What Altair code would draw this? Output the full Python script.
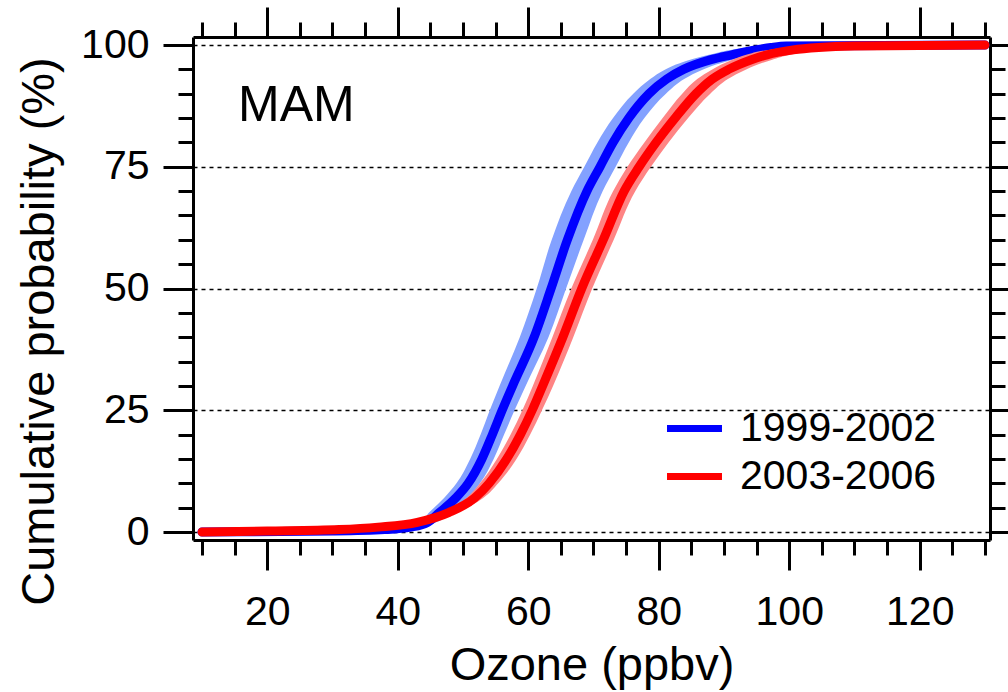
import altair as alt
import pandas as pd

# Cumulative probability levels (%) at which the ozone quantiles are given
levels = [0, 0.2, 0.5, 1, 2, 4, 7, 10, 15, 20, 25, 30, 40, 50, 60, 70, 75,
          80, 85, 90, 93, 95, 97, 98, 99, 99.5, 99.8, 100]

# 1999-2002: median ozone (ppbv) and the low / high edges of the spread
blue_mid = [10, 30, 38, 42, 44.6, 46.4, 48.9, 50.8, 52.9, 54.5, 56.0, 57.6, 60.9, 63.5,
            66.0, 69.0, 71.0, 73.0, 75.4, 78.5, 81.2, 83.8, 88.0, 91.2, 94.8, 97.2, 99.5, 130]
blue_lo = [10, 29, 37, 40.8, 43.3, 44.8, 47.1, 49.0, 51.1, 52.7, 54.1, 55.6, 58.7, 61.3,
           63.6, 66.6, 68.6, 70.6, 73.0, 76.1, 78.7, 81.0, 84.8, 87.7, 91.0, 93.5, 96.0, 101]
blue_hi = [10, 31, 39, 43.2, 45.9, 48.0, 50.7, 52.6, 54.7, 56.3, 57.9, 59.6, 63.1, 65.8,
           68.5, 71.4, 73.4, 75.4, 77.8, 81.1, 83.9, 86.8, 91.4, 94.9, 99.0, 102, 106, 130]

# 2003-2006
red_mid = [10, 20, 31, 37, 43, 47.8, 51.8, 54.0, 56.7, 58.8, 60.6, 62.2, 65.3, 68.2,
           71.5, 74.7, 77.0, 79.6, 82.5, 85.7, 88.2, 90.7, 94.2, 96.6, 100.6, 104.5, 110, 130]
red_lo = [10, 19, 30, 36, 42, 46.7, 50.5, 52.6, 55.2, 57.3, 59.1, 60.7, 63.7, 66.6,
          69.9, 73.0, 75.2, 77.8, 80.6, 83.6, 85.9, 88.2, 91.3, 93.4, 96.8, 100, 104, 108]
red_hi = [10, 21, 32, 38, 44, 48.9, 53.1, 55.4, 58.2, 60.3, 62.1, 63.8, 66.9, 69.8,
          73.1, 76.4, 78.8, 81.5, 84.5, 87.9, 90.6, 93.4, 97.4, 100.2, 105, 110, 118, 130]

periods = ["1999-2002", "2003-2006"]
line_colors = ["#0000FF", "#FF0000"]
band_colors = ["#83A1FF", "#FF8484"]

x_ticks = list(range(10, 131, 5))
y_ticks = list(range(0, 101, 5))


def frame(period, mid, lo, hi):
    return pd.DataFrame({"period": period, "pct": levels, "ozone": mid,
                         "lo": lo, "hi": hi, "step": range(len(levels))})


df = pd.concat([frame(periods[0], blue_mid, blue_lo, blue_hi),
                frame(periods[1], red_mid, red_lo, red_hi)], ignore_index=True)

FONT = "Liberation Sans"
x_scale = alt.Scale(domain=[8.62, 130.77], nice=False, zero=False)
y_scale = alt.Scale(domain=[-1.64, 101.65], nice=False, zero=False)

x_tick_size = {"condition": {"test": "datum.value % 20 === 0", "value": 30}, "value": 15}
y_tick_size = {"condition": {"test": "datum.value % 25 === 0", "value": 30}, "value": 15}

common = dict(domainColor="black", domainWidth=3, tickColor="black", tickWidth=3,
              labelFont=FONT, labelColor="black", titleFont=FONT, titleColor="black",
              titleFontWeight="normal", labelFlush=False, labelOverlap=False, labelBound=False)

x_bottom = alt.Axis(orient="bottom", values=x_ticks, tickSize=x_tick_size,
                    labelExpr="datum.value % 20 === 0 ? datum.label : ''",
                    labelFontSize=41, labelPadding=22, grid=False,
                    title="Ozone (ppbv)", titleFontSize=47, titleX=398.5, titleY=139,
                    titleBaseline="alphabetic", titleAlign="center", **common)
y_left = alt.Axis(orient="left", values=y_ticks, tickSize=y_tick_size,
                  labelExpr="datum.value % 25 === 0 ? datum.label : ''",
                  labelFontSize=41, labelPadding=14,
                  grid=True, gridColor="black", gridWidth=1.3, gridDash=[4, 4],
                  gridOpacity={"condition": {"test": "datum.value % 25 === 0", "value": 1}, "value": 0},
                  title="Cumulative probability (%)", titleFontSize=47, titleAngle=270,
                  titleX=-140, titleY=294, titleBaseline="alphabetic", titleAlign="center",
                  **common)
x_top = alt.Axis(orient="top", values=x_ticks, tickSize=x_tick_size, labels=False,
                 grid=False, title=None, **common)
y_right = alt.Axis(orient="right", values=y_ticks, tickSize=y_tick_size, labels=False,
                   grid=False, title=None, **common)

# legend key: a horizontal stroke twice as long as the nominal symbol box
color = alt.Color("period:N", scale=alt.Scale(domain=periods, range=line_colors),
                  legend=alt.Legend(title=None, orient="none", legendX=481, legendY=371,
                                    symbolType="M-2,0H2", symbolStrokeWidth=7, symbolSize=756,
                                    labelFontSize=41, labelFont=FONT, labelColor="black",
                                    labelLimit=0, labelOffset=25, rowPadding=6, padding=0))

base = alt.Chart(df)

blue_band = base.transform_filter(alt.datum.period == periods[0]).mark_area(
    orient="horizontal", interpolate="monotone", color=band_colors[0]).encode(
    x=alt.X("lo:Q", scale=x_scale, axis=x_bottom), x2="hi:Q",
    y=alt.Y("pct:Q", scale=y_scale, axis=y_left))

blue_line = base.transform_filter(alt.datum.period == periods[0]).mark_line(
    strokeWidth=9, strokeCap="round", strokeJoin="round", interpolate="monotone").encode(
    x=alt.X("ozone:Q", scale=x_scale, axis=x_top),
    y=alt.Y("pct:Q", scale=y_scale, axis=y_right),
    color=color, order="step:Q")

red_band = base.transform_filter(alt.datum.period == periods[1]).mark_area(
    orient="horizontal", interpolate="monotone", color=band_colors[1]).encode(
    x=alt.X("lo:Q", scale=x_scale, axis=None), x2="hi:Q",
    y=alt.Y("pct:Q", scale=y_scale, axis=None))

red_line = base.transform_filter(alt.datum.period == periods[1]).mark_line(
    strokeWidth=9, strokeCap="round", strokeJoin="round", interpolate="monotone").encode(
    x=alt.X("ozone:Q", scale=x_scale, axis=None),
    y=alt.Y("pct:Q", scale=y_scale, axis=None),
    color=color, order="step:Q")

season = alt.Chart(pd.DataFrame({"label": ["MAM"]})).mark_text(
    font=FONT, fontSize=50, align="left", baseline="alphabetic", color="black").encode(
    text="label:N", x=alt.value(45), y=alt.value(84))

chart = alt.layer(blue_band, blue_line, red_band, red_line, season).resolve_axis(
    x="independent", y="independent").properties(
    width=797, height=503,
    autosize=alt.AutoSizeParams(type="none"),
    padding={"left": 193, "top": 37, "right": 18, "bottom": 152},
    background="white").configure_view(stroke=None)

chart.save("out.html", embed_options={"renderer": "svg", "actions": False})
